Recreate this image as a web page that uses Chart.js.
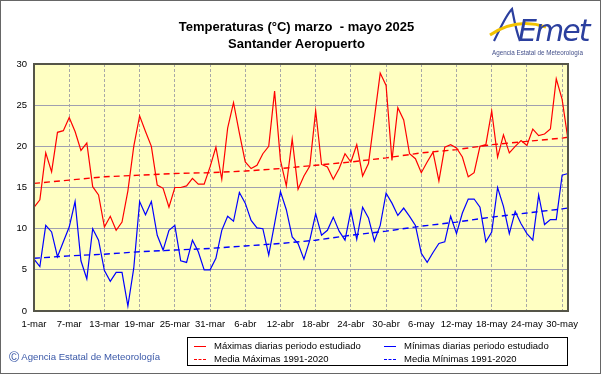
<!DOCTYPE html>
<html>
<head>
<meta charset="utf-8">
<script src="https://cdn.jsdelivr.net/npm/chart.js@4.4.0/dist/chart.umd.min.js"></script>
<style>
  body { margin: 0; background: #fff; }
  #wrap { position: relative; width: 601px; height: 374px; font-family: "Liberation Sans", Arial, sans-serif; }
  #frame { position: absolute; left: 0; top: 0; width: 599px; height: 372px; border: 1px solid #666; pointer-events: none; }
  canvas { position: absolute; left: 0; top: 0; }
  .title { position: absolute; left: 0; width: 601px; text-align: center; font-weight: bold; font-size: 13px; color: #000; }
  #legend { position: absolute; left: 187px; top: 337px; width: 381px; height: 29px; border: 1px solid #000; box-sizing: border-box; font-size: 9.5px; }
  .item { position: absolute; white-space: nowrap; }
  .sw { position: absolute; width: 12px; height: 0; }
  #copy { position: absolute; left: 9px; top: 349px; font-size: 9.6px; color: #3a58a8; white-space: nowrap; }
  #copy span.c { font-size: 14px; vertical-align: -2px; margin-right: 2px; }
</style>
</head>
<body>
<div id="wrap">
  <canvas id="chart" width="601" height="374"></canvas>
  <div class="title" style="top:19px; left:-4px">Temperaturas (°C) marzo &nbsp;- mayo 2025</div>
  <div class="title" style="top:36px; left:-4px">Santander Aeropuerto</div>

  <svg style="position:absolute; left:488px; top:5px" width="108" height="54" viewBox="0 0 108 54">
    <path d="M6 36 C 12 24, 18 10, 24 4 C 26 14, 28 26, 32 36" fill="none" stroke="#2b3f9e" stroke-width="2.2"/>
    <path d="M2 30 C 20 18, 40 16, 58 22" fill="none" stroke="#f2c200" stroke-width="3"/>
    <text x="30" y="36" font-family="DejaVu Sans, sans-serif" font-style="italic" font-size="30" fill="#2b3f9e" letter-spacing="-2">Emet</text>
    <text x="4" y="50" font-family="Liberation Sans, Arial, sans-serif" font-size="6.3" fill="#44508a">Agencia Estatal de Meteorología</text>
  </svg>

  <div id="legend">
    <div class="sw" style="left:6px; top:8px; border-top:1.5px solid #f00"></div>
    <div class="item" style="left:26px; top:2px">Máximas diarias periodo estudiado</div>
    <div class="sw" style="left:6px; top:21px; border-top:1.5px dashed #f00"></div>
    <div class="item" style="left:26px; top:15px">Media Máximas 1991-2020</div>
    <div class="sw" style="left:196px; top:8px; border-top:1.5px solid #00f"></div>
    <div class="item" style="left:216px; top:2px">Mínimas diarias periodo estudiado</div>
    <div class="sw" style="left:196px; top:21px; border-top:1.5px dashed #00f"></div>
    <div class="item" style="left:216px; top:15px">Media Mínimas 1991-2020</div>
  </div>

  <div id="copy"><span class="c">©</span>Agencia Estatal de Meteorología</div>
  <div id="frame"></div>
</div>

<script>
// one label per day, 1 March to 31 May
const months = [['mar', 31], ['abr', 30], ['may', 31]];
const days = [];
months.forEach(m => {
    for (let d = 1; d <= m[1]; d++) days.push(d + '-' + m[0]);
});

const tickLabels = ['1-mar', '7-mar', '13-mar', '19-mar', '25-mar', '31-mar', '6-abr', '12-abr',
    '18-abr', '24-abr', '30-abr', '6-may', '12-may', '18-may', '24-may', '30-may'];

const tmax = [12.6, 13.5, 19.2, 16.9, 21.7, 21.9, 23.5, 21.8, 19.5, 20.4,
    15.1, 14.1, 10.2, 11.5, 9.8, 10.8, 14.6, 20.0, 23.7, 21.8,
    20.0, 15.3, 14.9, 12.6, 15.0, 15.0, 15.2, 16.1, 15.4, 15.4,
    17.5, 19.9, 16.0, 22.2, 25.3, 21.6, 18.1, 17.3, 17.7, 19.1,
    20.0, 26.7, 18.3, 15.2, 20.9, 14.8, 16.4, 17.6, 24.3, 17.8,
    17.5, 16.0, 17.3, 19.1, 18.1, 20.2, 16.4, 17.9, 23.4, 28.9,
    27.4, 18.3, 24.7, 23.2, 19.1, 18.5, 16.8, 18.1, 19.3, 15.8,
    19.9, 20.2, 19.8, 18.7, 16.3, 16.8, 20.0, 20.2, 24.3, 18.7,
    21.4, 19.2, 20.0, 20.7, 20.1, 22.1, 21.3, 21.5, 22.1, 28.2,
    25.7, 20.8];

const tmin = [6.3, 5.4, 10.4, 9.6, 6.6, 8.4, 10.2, 13.3, 6.1, 3.9,
    10.0, 8.6, 4.9, 3.6, 4.7, 4.7, 0.6, 5.2, 13.3, 11.7,
    13.3, 9.2, 7.4, 9.8, 10.4, 6.1, 5.9, 8.6, 7.2, 5.0,
    5.0, 6.4, 9.8, 11.5, 10.9, 14.4, 13.1, 11.0, 10.1, 10.0,
    6.8, 10.6, 14.5, 12.3, 9.0, 8.2, 6.3, 8.6, 11.8, 9.2,
    9.8, 11.4, 9.7, 8.6, 12.2, 8.7, 12.6, 11.3, 8.5, 10.4,
    14.3, 13.1, 11.6, 12.5, 11.5, 10.4, 7.0, 5.9, 7.1, 8.2,
    8.4, 11.5, 9.4, 11.9, 13.6, 13.6, 12.6, 8.4, 9.6, 15.0,
    12.7, 9.4, 12.1, 10.6, 9.4, 8.6, 14.1, 10.5, 11.1, 11.1,
    16.5, 16.7];

// 1991-2020 normals, read at the tick days and on 31-may
const normalDays = ['1-mar', '7-mar', '13-mar', '19-mar', '25-mar', '31-mar', '6-abr', '12-abr',
    '18-abr', '24-abr', '30-abr', '6-may', '12-may', '18-may', '24-may', '30-may', '31-may'];
const normMax = [15.5, 15.9, 16.3, 16.5, 16.7, 16.8, 17.0, 17.3, 17.7, 18.1, 18.6, 19.2, 19.6, 20.2, 20.6, 21.0, 21.1];
const normMin = [6.4, 6.7, 6.9, 7.2, 7.4, 7.6, 7.9, 8.2, 8.6, 9.2, 9.7, 10.3, 10.8, 11.4, 11.9, 12.4, 12.5];

function sparse(vals) {
    return days.map(d => {
        const k = normalDays.indexOf(d);
        return k >= 0 ? vals[k] : null;
    });
}

const plotBox = {
    id: 'plotBox',
    beforeDraw(chart) {
        const a = chart.chartArea, c = chart.ctx;
        c.save();
        c.fillStyle = '#ffffc2';
        c.fillRect(a.left, a.top, a.right - a.left, a.bottom - a.top);
        c.restore();
    },
    afterDraw(chart) {
        const a = chart.chartArea, c = chart.ctx;
        c.save();
        c.strokeStyle = '#555548';
        c.lineWidth = 2;
        c.strokeRect(a.left, a.top, a.right - a.left, a.bottom - a.top);
        c.restore();
    }
};

const font = { family: '"Liberation Sans", Arial, sans-serif', size: 9.5 };

new Chart(document.getElementById('chart').getContext('2d'), {
    type: 'line',
    data: {
        labels: days,
        datasets: [
            { data: tmax, borderColor: '#ff0000', borderWidth: 1.2, pointRadius: 0, tension: 0 },
            { data: tmin, borderColor: '#0000ff', borderWidth: 1.2, pointRadius: 0, tension: 0 },
            { data: sparse(normMax), borderColor: '#ff0000', borderWidth: 1.4, borderDash: [6, 4], pointRadius: 0, spanGaps: true },
            { data: sparse(normMin), borderColor: '#0000ff', borderWidth: 1.4, borderDash: [6, 4], pointRadius: 0, spanGaps: true }
        ]
    },
    options: {
        responsive: false,
        animation: false,
        devicePixelRatio: 1,
        layout: { padding: { top: 64, right: 33, bottom: 0, left: 0 } },
        plugins: { legend: { display: false }, title: { display: false }, tooltip: { enabled: false } },
        scales: {
            x: {
                offset: false,
                afterFit: s => { s.height = 63; },
                grid: {
                    drawTicks: false,
                    color: ctx => (ctx.index % 6 === 0 ? '#a8a8a8' : 'rgba(0,0,0,0)'),
                    lineWidth: 1
                },
                border: { display: false, dash: [3, 2] },
                ticks: {
                    autoSkip: false,
                    maxRotation: 0,
                    padding: 8,
                    color: '#000',
                    font: font,
                    callback: function (v, i) {
                        const l = days[i];
                        return tickLabels.includes(l) ? l : '';
                    }
                }
            },
            y: {
                min: 0,
                max: 30,
                afterFit: s => { s.width = 34; },
                grid: { drawTicks: false, color: '#a0a0b0', lineWidth: 1 },
                border: { display: false },
                ticks: { stepSize: 5, padding: 7, color: '#000', font: font }
            }
        }
    },
    plugins: [plotBox]
});
</script>
</body>
</html>
